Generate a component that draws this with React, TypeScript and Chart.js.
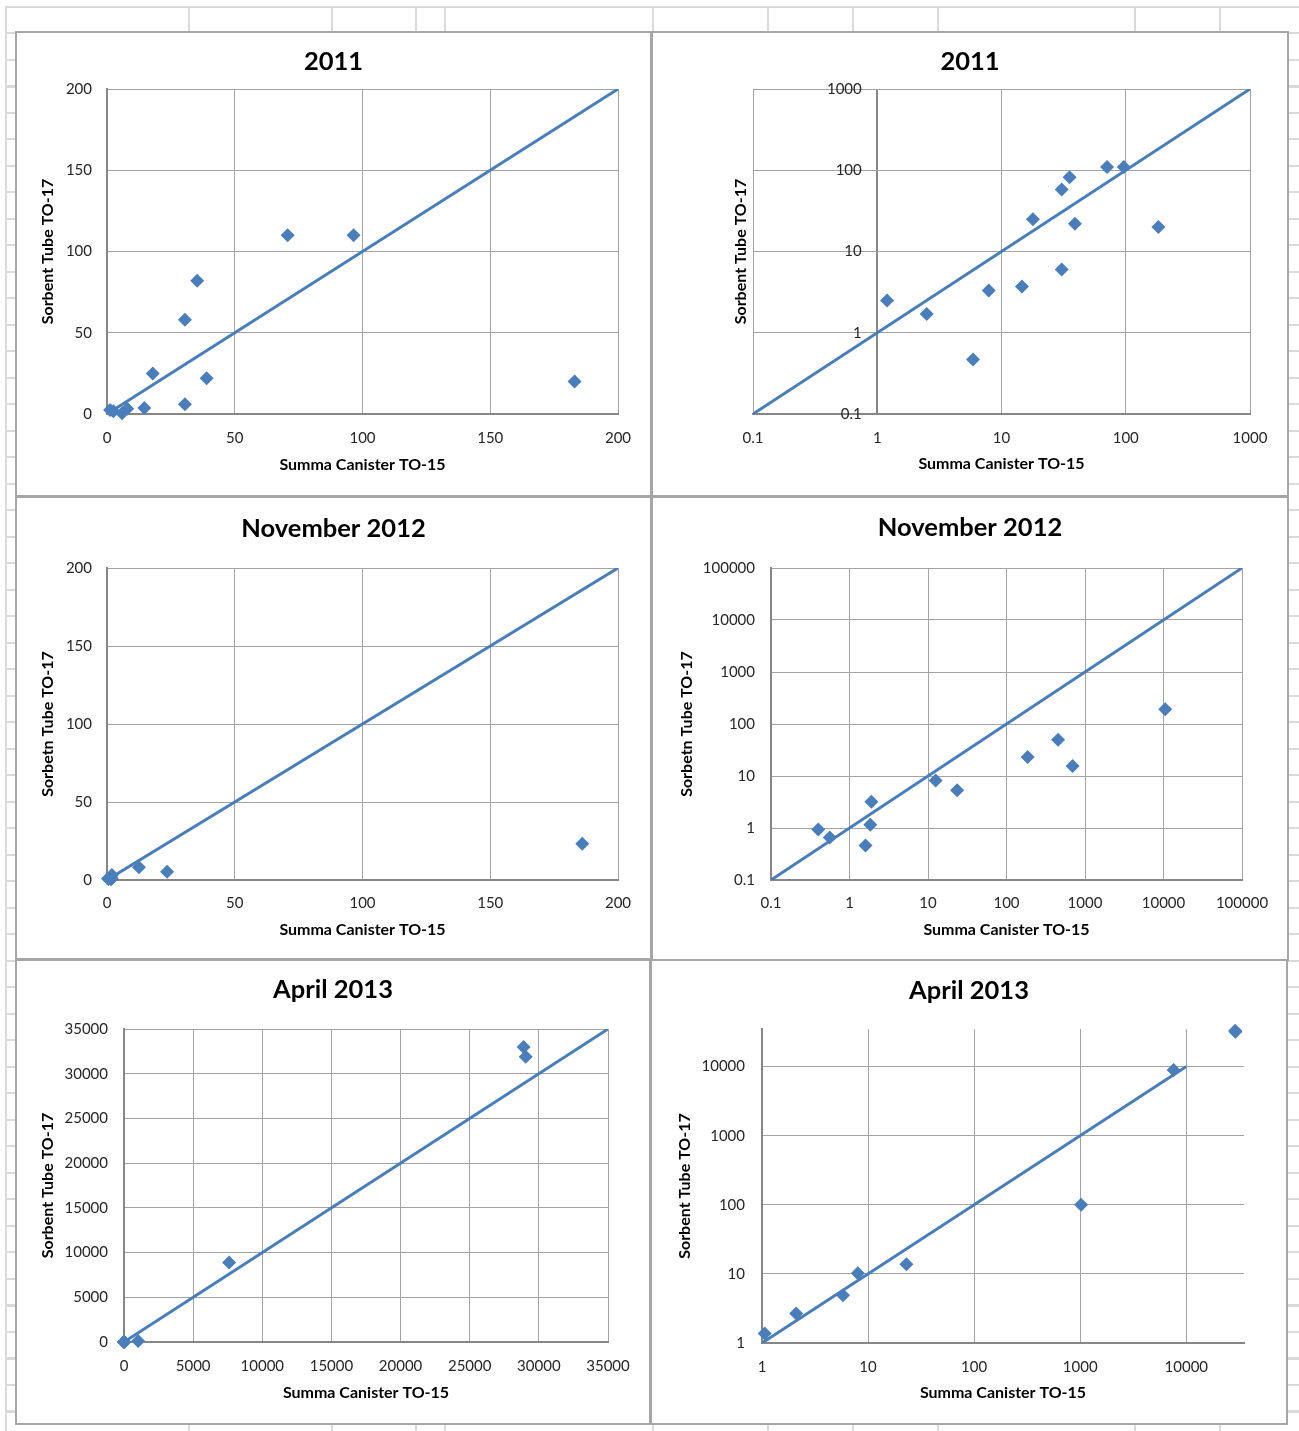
import React, { useEffect, useRef } from 'react';
import { Chart, registerables } from 'chart.js';

Chart.register(...registerables);

// ---------------- Data ----------------
const canister2011 = [1.2, 2.5, 5.9, 7.9, 14.6, 17.9, 30.5, 30.5, 35.3, 39, 70.7, 96.5, 183];
const tube2011 = [2.5, 1.7, 0.47, 3.3, 3.7, 25, 58, 6, 82, 22, 110, 110, 20];

const canisterNov2012 = [0.4, 0.56, 1.6, 1.84, 1.9, 12.5, 23.5, 186, 454, 695, 10500];
const tubeNov2012 = [0.94, 0.66, 0.46, 1.16, 3.2, 8.2, 5.3, 23.3, 50, 15.6, 192];

const canisterApr2013 = [1.06, 2.1, 5.8, 8.0, 23, 1020, 7600, 28900, 29050];
const tubeApr2013 = [1.37, 2.67, 4.9, 10.2, 13.8, 100, 8900, 33000, 31900];

const oneToOneLinear200 = [0, 200];
const oneToOne2011Log = [0.1, 1000];
const oneToOneNov2012Log = [0.1, 100000];
const oneToOneApr2013Linear = [0, 35000];
const oneToOneApr2013Log = [1, 10000];

const ticksLinear200 = [0, 50, 100, 150, 200];
const ticksLog2011 = [0.1, 1, 10, 100, 1000];
const ticksLogNov2012 = [0.1, 1, 10, 100, 1000, 10000, 100000];
const ticksLinearApr2013 = [0, 5000, 10000, 15000, 20000, 25000, 30000, 35000];
const ticksLogApr2013 = [1, 10, 100, 1000, 10000];

const xTitle = 'Summa Canister TO-15';
const yTitleA = 'Sorbent Tube TO-17';
const yTitleB = 'Sorbetn Tube TO-17';

// ---------------- Styles ----------------
const FONT = 'Lato, "Open Sans", sans-serif';
const BLUE = '#4a7ebb';
const GRID = '#a3a3a3';
const AXIS = '#868686';
const TEXT = '#262626';
const SHEET = '#dadada';

type Spec = {
  title: string;
  yTitle: string;
  xs: number[];
  ys: number[];
  line: number[];
  xType: 'linear' | 'logarithmic';
  yType: 'linear' | 'logarithmic';
  xRange: number[];
  yRange: number[];
  xTicks: number[];
  yTicks: number[];
  frame: number[]; // x, y, w, h
  plot: number[]; // L, R, T, B (page coords)
  titleY: number;
  yTitleX: number;
  yTickRight: number;
  xTickY: number;
  xTitleY: number;
  yLabelsAtX?: number; // y labels placed inside the plot, right-aligned at this x value
};

const specs: Spec[] = [
  {
    title: '2011', yTitle: yTitleA, xs: canister2011, ys: tube2011, line: oneToOneLinear200,
    xType: 'linear', yType: 'linear', xRange: [0, 200], yRange: [0, 200],
    xTicks: ticksLinear200, yTicks: ticksLinear200,
    frame: [15, 31, 637, 466], plot: [107, 618, 89, 414],
    titleY: 62, yTitleX: 48, yTickRight: 92, xTickY: 438, xTitleY: 465,
  },
  {
    title: '2011', yTitle: yTitleA, xs: canister2011, ys: tube2011, line: oneToOne2011Log,
    xType: 'logarithmic', yType: 'logarithmic', xRange: [0.1, 1000], yRange: [0.1, 1000],
    xTicks: ticksLog2011, yTicks: ticksLog2011,
    frame: [651, 31, 638, 466], plot: [753, 1250, 89, 414],
    titleY: 62, yTitleX: 741, yTickRight: 862, xTickY: 438, xTitleY: 464, yLabelsAtX: 0.75,
  },
  {
    title: 'November 2012', yTitle: yTitleB, xs: canisterNov2012, ys: tubeNov2012, line: oneToOneLinear200,
    xType: 'linear', yType: 'linear', xRange: [0, 200], yRange: [0, 200],
    xTicks: ticksLinear200, yTicks: ticksLinear200,
    frame: [15, 496, 637, 464], plot: [107, 618, 568, 880],
    titleY: 529, yTitleX: 48, yTickRight: 92, xTickY: 903, xTitleY: 930,
  },
  {
    title: 'November 2012', yTitle: yTitleB, xs: canisterNov2012, ys: tubeNov2012, line: oneToOneNov2012Log,
    xType: 'logarithmic', yType: 'logarithmic', xRange: [0.1, 100000], yRange: [0.1, 100000],
    xTicks: ticksLogNov2012, yTicks: ticksLogNov2012,
    frame: [651, 496, 638, 465], plot: [771, 1242, 568, 880],
    titleY: 528, yTitleX: 687, yTickRight: 755, xTickY: 903, xTitleY: 930,
  },
  {
    title: 'April 2013', yTitle: yTitleA, xs: canisterApr2013, ys: tubeApr2013, line: oneToOneApr2013Linear,
    xType: 'linear', yType: 'linear', xRange: [0, 35000], yRange: [0, 35000],
    xTicks: ticksLinearApr2013, yTicks: ticksLinearApr2013,
    frame: [15, 959, 636, 466], plot: [124, 608, 1029, 1342],
    titleY: 990, yTitleX: 48, yTickRight: 108, xTickY: 1366, xTitleY: 1393,
  },
  {
    title: 'April 2013', yTitle: yTitleA, xs: canisterApr2013, ys: tubeApr2013, line: oneToOneApr2013Log,
    xType: 'logarithmic', yType: 'logarithmic', xRange: [1, 35000], yRange: [1, 35000],
    xTicks: ticksLogApr2013, yTicks: ticksLogApr2013,
    frame: [650, 959, 638, 466], plot: [762, 1244, 1029, 1343],
    titleY: 991, yTitleX: 685, yTickRight: 745, xTickY: 1367, xTitleY: 1393,
  },
];

function Panel({ spec }: { spec: Spec }) {
  const ref = useRef<HTMLCanvasElement | null>(null);
  const [fx, fy, w, h] = spec.frame;

  useEffect(() => {
    if (!ref.current) return;
    const L = spec.plot[0] - fx;
    const R = spec.plot[1] - fx;
    const T = spec.plot[2] - fy;
    const B = spec.plot[3] - fy;
    const titleSize = 25.5;
    const titleLH = titleSize * 1.2;
    const titlePadTop = spec.titleY - fy - titleLH / 2;
    const titlePadBottom = T - titlePadTop - titleLH;
    const axisTitleSize = 16;
    const axisTitleLH = axisTitleSize * 1.2;
    const tickSize = 15;
    const tickLH = tickSize * 1.2;
    const inner = spec.yLabelsAtX !== undefined;

    const setTicks = (vals: number[]) => (scale: any) => {
      scale.ticks = vals.map((v) => ({ value: v }));
    };
    const fmt = (v: any) => String(v);
    const tickFont = { family: FONT, size: tickSize, lineHeight: 1.2 };

    const xGridColor = inner ? (c: any) => (c.tick && c.tick.value === 1 ? AXIS : GRID) : GRID;
    const xGridWidth = inner ? (c: any) => (c.tick && c.tick.value === 1 ? 2 : 1) : 1;

    const scales: any = {
      x: {
        type: spec.xType,
        position: 'bottom',
        min: spec.xRange[0],
        max: spec.xRange[1],
        afterBuildTicks: setTicks(spec.xTicks),
        afterFit: (s: any) => {
          s.height = h - B;
        },
        grid: { color: xGridColor, lineWidth: xGridWidth, drawTicks: false },
        border: { display: true, color: AXIS, width: 2 },
        ticks: {
          callback: fmt,
          color: TEXT,
          font: tickFont,
          padding: spec.xTickY - spec.plot[3] - tickLH / 2,
          autoSkip: false,
          maxRotation: 0,
          minRotation: 0,
        },
        title: {
          display: true,
          text: xTitle,
          color: '#000',
          font: { family: FONT, size: axisTitleSize, weight: 'bold', lineHeight: 1.2 },
          padding: { top: 0, bottom: h - (spec.xTitleY - fy) - axisTitleLH / 2 },
        },
      },
      y: {
        type: spec.yType,
        position: 'left',
        min: spec.yRange[0],
        max: spec.yRange[1],
        afterBuildTicks: setTicks(spec.yTicks),
        afterFit: (s: any) => {
          s.width = L;
        },
        grid: { color: GRID, lineWidth: 1, drawTicks: false },
        border: { display: !inner, color: AXIS, width: 2 },
        ticks: {
          display: !inner,
          callback: fmt,
          color: TEXT,
          font: tickFont,
          padding: L - (spec.yTickRight - fx),
          autoSkip: false,
        },
        title: {
          display: true,
          text: spec.yTitle,
          color: '#000',
          font: { family: FONT, size: axisTitleSize, weight: 'bold', lineHeight: 1.2 },
          padding: { top: spec.yTitleX - fx - axisTitleLH / 2, bottom: 0 },
        },
      },
      spacer: {
        type: 'linear',
        axis: 'y',
        position: 'right',
        display: true,
        grid: { display: false, drawTicks: false },
        border: { display: false },
        ticks: { display: false },
        afterFit: (s: any) => {
          s.width = w - R;
        },
      },
    };

    if (inner) {
      scales.yl = {
        type: spec.yType,
        axis: 'y',
        position: { x: spec.yLabelsAtX },
        min: spec.yRange[0],
        max: spec.yRange[1],
        afterBuildTicks: setTicks(spec.yTicks),
        grid: { display: false, drawTicks: false },
        border: { display: false },
        ticks: { callback: fmt, color: TEXT, font: tickFont, padding: 0, autoSkip: false },
        title: { display: false },
      };
    }

    const chart = new Chart(ref.current, {
      type: 'scatter',
      data: {
        datasets: [
          {
            label: 'Samples',
            data: spec.xs.map((x, i) => ({ x, y: spec.ys[i] })),
            pointStyle: 'rectRot',
            pointRadius: 7,
            pointHoverRadius: 7,
            backgroundColor: BLUE,
            borderColor: BLUE,
            borderWidth: 0,
            showLine: false,
            clip: false,
          },
          {
            label: '1:1',
            data: spec.line.map((v) => ({ x: v, y: v })),
            showLine: true,
            pointRadius: 0,
            pointHoverRadius: 0,
            borderColor: BLUE,
            borderWidth: 3,
            fill: false,
          },
        ],
      },
      options: {
        animation: false,
        responsive: false,
        maintainAspectRatio: false,
        events: [],
        layout: { padding: 0 },
        plugins: {
          legend: { display: false },
          tooltip: { enabled: false },
          title: {
            display: true,
            text: spec.title,
            color: '#000',
            font: { family: FONT, size: titleSize, weight: 'bold', lineHeight: 1.2 },
            padding: { top: titlePadTop, bottom: titlePadBottom },
          },
        },
        scales,
      } as any,
    });
    return () => chart.destroy();
  }, [spec]);

  return (
    <div style={{ position: 'absolute', left: fx, top: fy, width: w, height: h, background: '#fff' }}>
      <canvas ref={ref} width={w} height={h} style={{ display: 'block', width: w, height: h }} />
      <div
        style={{
          position: 'absolute',
          left: 0,
          top: 0,
          width: w,
          height: h,
          boxSizing: 'border-box',
          border: '2px solid #a6a6a6',
          pointerEvents: 'none',
        }}
      />
    </div>
  );
}

const sheetColumns = [5, 188, 331, 415, 444, 652, 767, 852, 937, 1134, 1219];

export default function App() {
  return (
    <div
      style={{
        position: 'absolute',
        left: 0,
        top: 0,
        width: 1299,
        height: 1431,
        background: '#fff',
        overflow: 'hidden',
      }}
    >
      <div
        style={{
          position: 'absolute',
          left: 5,
          top: 6,
          width: 1294,
          height: 1425,
          backgroundImage: `repeating-linear-gradient(to bottom, ${SHEET} 0px, ${SHEET} 2px, transparent 2px, transparent 26.5px)`,
        }}
      />
      {sheetColumns.map((x) => (
        <div key={x} style={{ position: 'absolute', left: x, top: 6, width: 2, height: 1425, background: SHEET }} />
      ))}
      {specs.map((s, i) => (
        <Panel key={i} spec={s} />
      ))}
    </div>
  );
}
